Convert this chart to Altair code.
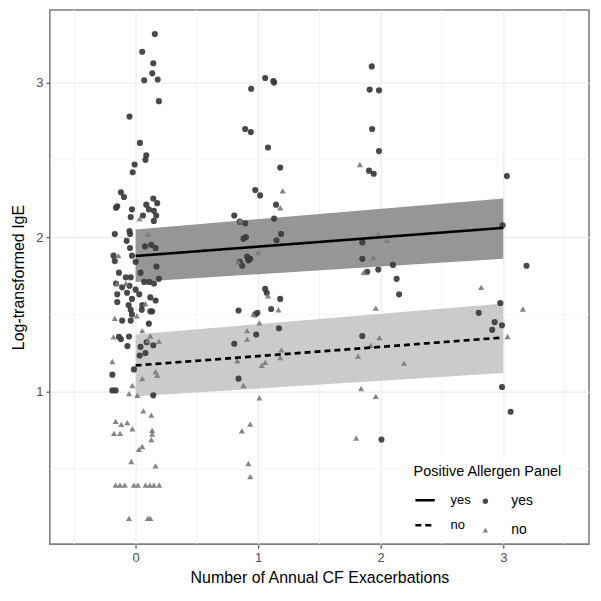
import altair as alt
import pandas as pd

# ---------------- data ----------------
# Positive allergen panel = "yes" (circles), jittered x positions
yes_x = [0.157, 0.054, 0.144, 0.136, 0.07, 0.18, 0.19, -0.05, 0.035, 0.087, 0.08, -0.008, -0.024,
         -0.12, -0.095, -0.16, -0.15, -0.03, -0.04, 0.144, 0.176, 0.087, 0.108, 0.149, 0.168, 0.06,
         0.149, -0.17, -0.05, -0.045, -0.073, -0.046, 0.076, 0.127, 0.163, -0.18, -0.03, -0.17, 0.17,
         0.0, 0.04, -0.136, -0.08, -0.04, -0.16, -0.11, -0.05, 0.0, 0.07, 0.11, 0.15, 0.19, -0.15,
         -0.07, 0.03, -0.03, -0.15, -0.057, 0.054, 0.12, -0.04, -0.03, 0.05, 0.163, 0.12, 0.135,
         -0.11, -0.04, 0.108, -0.136, -0.12, -0.054, -0.067, 0.04, 0.09, 0.033, 0.08, 0.144, -0.19,
         -0.014, -0.19, -0.163, 0.144,
         1.057, 1.124, 1.13, 0.943, 0.894, 0.94, 1.08, 1.18, 0.976, 1.016, 1.146, 1.13, 0.805, 0.85,
         0.894, 1.187, 1.15, 0.88, 0.90, 0.91, 0.935, 0.92, 0.85, 0.87, 1.057, 1.07, 1.18, 0.84,
         0.994, 0.976, 1.106, 0.984, 0.805, 1.17, 0.84,
         1.927, 1.91, 1.986, 1.93, 1.986, 1.905, 1.943, 1.85, 1.85, 1.98, 1.89, 2.1, 2.13, 2.15,
         1.85, 2.006,
         3.03, 2.995, 3.19, 2.976, 2.80, 2.93, 2.99, 2.91, 2.99, 3.06]
yes_y = [3.314, 3.20, 3.125, 3.06, 3.015, 3.02, 2.88, 2.78, 2.61, 2.53, 2.50, 2.47, 2.42,
         2.29, 2.26, 2.19, 2.20, 2.18, 2.13, 2.25, 2.22, 2.21, 2.18, 2.17, 2.14, 2.14,
         2.105, 2.02, 2.04, 2.02, 1.976, 1.93, 1.94, 1.95, 1.93, 1.88, 1.88, 1.845, 1.81,
         1.84, 1.77, 1.77, 1.74, 1.74, 1.70, 1.675, 1.685, 1.66, 1.71, 1.71, 1.70, 1.73, 1.63,
         1.64, 1.63, 1.60, 1.58, 1.56, 1.56, 1.61, 1.53, 1.50, 1.53, 1.59, 1.52, 1.52,
         1.46, 1.46, 1.44, 1.355, 1.34, 1.357, 1.295, 1.29, 1.32, 1.234, 1.25, 1.30, 1.11,
         1.144, 1.008, 1.008, 0.976,
         3.03, 3.01, 3.0, 2.96, 2.70, 2.68, 2.58, 2.45, 2.305, 2.27, 2.21, 2.12, 2.14, 2.10,
         2.09, 2.02, 1.98, 1.99, 2.0, 1.875, 1.86, 1.85, 1.84, 1.815, 1.665, 1.64, 1.60, 1.525,
         1.51, 1.50, 1.535, 1.37, 1.31, 1.41, 1.084,
         3.105, 2.955, 2.95, 2.70, 2.557, 2.43, 2.41, 1.966, 1.86, 1.79, 1.776, 1.82, 1.73, 1.63,
         1.36, 0.69,
         2.395, 2.077, 1.815, 1.574, 1.51, 1.45, 1.43, 1.40, 1.03, 0.87]

# Positive allergen panel = "no" (triangles)
no_x = [0.033, 0.10, -0.14, -0.15, 0.08, -0.08, 0.01, -0.17, 0.054, 0.10, 0.12, 0.19, -0.18,
        -0.19, 0.054, 0.163, 0.176, -0.027, -0.054, 0.014, 0.063, 0.128, -0.163, -0.117, -0.068,
        -0.176, -0.127, -0.027, 0.135, 0.135, 0.128, 0.027, 0.054, -0.035, 0.163,
        -0.163, -0.128, -0.089, -0.014, 0.019, 0.081, 0.116, 0.149, 0.193,
        -0.054, 0.10, 0.12,
        1.2, 1.18, 0.854, 1.0, 0.84, 1.08, 0.96, 1.165, 1.01, 0.91, 0.91, 1.19, 1.18, 0.83, 1.03,
        1.057, 0.88, 1.01, 0.867, 0.935, 0.92, 0.935,
        1.83, 1.98, 2.05, 1.94, 1.86, 1.96, 1.99, 1.92, 1.815, 1.84, 1.96, 1.80,
        2.82, 3.16, 3.035, 2.19]
no_y = [2.12, 2.02, 1.88, 1.70, 1.57, 1.70, 1.49, 1.475, 1.395, 1.33, 1.36, 1.325, 1.355,
        1.195, 1.084, 1.13, 1.106, 1.04, 0.987, 0.976, 0.876, 0.848, 0.808, 0.788, 0.80,
        0.73, 0.73, 0.76, 0.75, 0.725, 0.69, 0.626, 0.645, 0.548, 0.52,
        0.395, 0.395, 0.395, 0.395, 0.395, 0.395, 0.395, 0.395, 0.395,
        0.18, 0.18, 0.18,
        2.30, 2.19, 2.105, 1.90, 1.84, 1.62, 1.50, 1.53, 1.445, 1.395, 1.34, 1.27, 1.22, 1.20, 1.17,
        1.19, 1.04, 0.96, 0.746, 0.79, 0.535, 0.45,
        2.47, 2.02, 1.98, 1.87, 1.77, 1.54, 1.35, 1.30, 1.23, 1.02, 0.97, 0.70,
        1.675, 1.535, 1.357, 1.185]

# fitted lines and confidence bands (ends at 0 and 3 exacerbations)
fit_x = [0, 3]
yes_fit = [1.878, 2.06]
yes_lo = [1.71, 1.86]
yes_hi = [2.05, 2.25]
no_fit = [1.17, 1.35]
no_lo = [0.97, 1.12]
no_hi = [1.37, 1.57]

groups = ["yes", "no"]
band_colors = {"yes": "#969696", "no": "#cbcbcb"}
x_ticks = [0, 1, 2, 3]
y_ticks = [1, 2, 3]
x_minor = [-0.5, 0.5, 1.5, 2.5, 3.5]
y_minor = [0.5, 1.5, 2.5]

# ---------------- tables ----------------
pts = pd.DataFrame({
    "x": yes_x + no_x,
    "y": yes_y + no_y,
    "pos": ["yes"] * len(yes_x) + ["no"] * len(no_x),
})
fit = pd.DataFrame({
    "x": fit_x + fit_x,
    "y": yes_fit + no_fit,
    "lo": yes_lo + no_lo,
    "hi": yes_hi + no_hi,
    "panel": ["yes"] * 2 + ["no"] * 2,
})
gx = pd.DataFrame({"x": x_minor})
gy = pd.DataFrame({"y": y_minor})

FONT = "Liberation Sans"
xs = alt.Scale(domain=[-0.70, 3.70], nice=False, zero=False)
ys = alt.Scale(domain=[0.013, 3.47], nice=False, zero=False)
xaxis = alt.Axis(title="Number of Annual CF Exacerbations", values=x_ticks, format="d")
yaxis = alt.Axis(title="Log-transformed IgE", values=y_ticks, format="d")

X = lambda f: alt.X(f, type="quantitative", scale=xs, axis=xaxis)
Y = lambda f: alt.Y(f, type="quantitative", scale=ys, axis=yaxis)

minor_v = alt.Chart(gx).mark_rule(color="#f4f4f4", strokeWidth=1).encode(x=X("x"))
minor_h = alt.Chart(gy).mark_rule(color="#f4f4f4", strokeWidth=1).encode(y=Y("y"))

# bands: one layer per group with a fixed colour (no legend-bearing channel)
bands = [
    alt.Chart(fit).transform_filter(alt.datum.panel == g).mark_area(color=band_colors[g], opacity=1).encode(
        x=X("x"), y=Y("lo"), y2="hi")
    for g in groups
]

pt_legend = alt.Legend(
    title=None, orient="none", legendX=430, legendY=486, zindex=1,
    labelFont=FONT, labelFontSize=14, labelColor="black", labelOffset=19,
    rowPadding=15, symbolSize=30, padding=0,
)
points = alt.Chart(pts).mark_point(filled=True, size=38, opacity=0.92).encode(
    x=X("x"), y=Y("y"),
    shape=alt.Shape("pos:N", scale=alt.Scale(domain=groups, range=["circle", "triangle-up"]), legend=pt_legend),
    color=alt.Color("pos:N", scale=alt.Scale(domain=groups, range=["#3a3a3a", "#7c7c7c"]), legend=pt_legend),
)

# line legend: data-derived domain (sorted yes, no) so it is not merged with the point legend
lines = alt.Chart(fit).mark_line(color="black", strokeWidth=2.6).encode(
    x=X("x"), y=Y("y"),
    strokeDash=alt.StrokeDash(
        "panel:N",
        sort=groups,
        scale=alt.Scale(range=[[1, 0], [6, 4]]),
        legend=alt.Legend(
            title="Positive Allergen Panel", orient="none", legendX=357, legendY=449,
            fillColor="white", padding=8, titleFont=FONT, titleFontSize=14.5,
            titleFontWeight="normal", titleColor="black", titlePadding=9, titleLimit=300,
            labelFont=FONT, labelFontSize=13, labelColor="black", labelOffset=14,
            symbolType="stroke", symbolStrokeColor="black", symbolStrokeWidth=2.6,
            symbolSize=380, rowPadding=6,
        ),
    ),
)

chart = alt.layer(minor_v, minor_h, *bands, points, lines).properties(
    width=541, height=536,
    padding={"left": 2, "top": 0, "right": 3, "bottom": 5},
).configure_view(
    stroke="#7f7f7f", strokeWidth=1.6,
).configure_axis(
    labelFont=FONT, labelFontSize=13, labelColor="#4d4d4d",
    titleFont=FONT, titleFontSize=16, titleFontWeight="normal", titleColor="black",
    tickColor="#555555", tickSize=4, tickWidth=1.2, domain=False,
    gridColor="#ebebeb", gridWidth=1.2, labelPadding=3,
).configure_axisX(titlePadding=5).configure_axisY(titlePadding=9)

chart.save("out.html", embed_options={"renderer": "svg", "actions": False})
